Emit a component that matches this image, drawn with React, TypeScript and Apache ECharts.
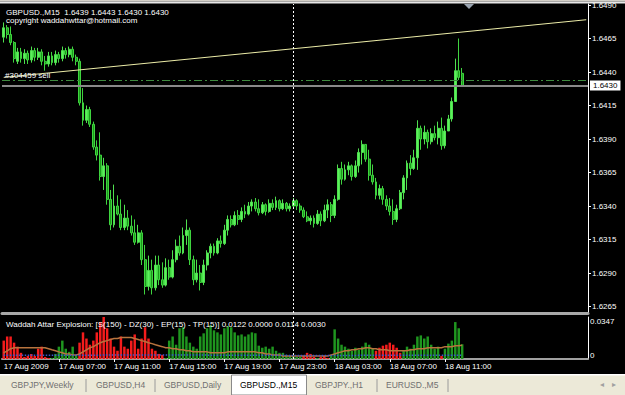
import React, { useEffect, useRef } from 'react';
import * as echarts from 'echarts';

// ---- Data ----
const SYMBOL_HEADER = 'GBPUSD.,M15  1.6439 1.6443 1.6430 1.6430';
const COPYRIGHT = 'copyright waddahwttar@hotmail.com';
const IND_TITLE = 'Waddah Attar Explosion: [S(150) - DZ(30) - EP(15) - TP(15)] 0.0122 0.0000 0.0114 0.0030';

const TIME_LABELS = ['17 Aug 2009', '17 Aug 07:00', '17 Aug 11:00', '17 Aug 15:00', '17 Aug 19:00', '17 Aug 23:00', '18 Aug 03:00', '18 Aug 07:00', '18 Aug 11:00'];
const BARS_PER_LABEL = 16;
const SLOT_COUNT = 170;
const PRICE_TICKS = [1.6265, 1.629, 1.6315, 1.634, 1.6365, 1.639, 1.6415, 1.644, 1.6465, 1.649];
const IND_TOP_TICK = [0.0347];
const IND_BOTTOM_TICK = [0];

const BID_PRICE = 1.643;
const ORDER_PRICE = 1.6434;
const ORDER_LABEL = '#304459 sell';
const TRENDLINE = [[0, 1.6436], [169, 1.6479]];
const VLINE_BAR = 84;

const TABS = ['GBPJPY,Weekly', 'GBPUSD,H4', 'GBPUSD,Daily', 'GBPUSD.,M15', 'GBPJPY.,H1', 'EURUSD.,M5'];

// [open, close, low, high]
const CANDLES = [
  [1.6466, 1.6473, 1.6462, 1.6477], [1.6473, 1.6468, 1.6465, 1.6475], [1.6468, 1.6462, 1.6460, 1.6474], [1.6462, 1.6450, 1.6447, 1.6463],
  [1.6448, 1.6455, 1.6446, 1.6458], [1.6455, 1.6450, 1.6447, 1.6458], [1.6450, 1.6454, 1.6446, 1.6457], [1.6454, 1.6449, 1.6446, 1.6456],
  [1.6449, 1.6456, 1.6447, 1.6459], [1.6456, 1.6451, 1.6448, 1.6458], [1.6451, 1.6455, 1.6449, 1.6458], [1.6455, 1.6448, 1.6445, 1.6457],
  [1.6448, 1.6446, 1.6441, 1.6452], [1.6446, 1.6452, 1.6444, 1.6455], [1.6452, 1.6447, 1.6445, 1.6455], [1.6447, 1.6453, 1.6445, 1.6456],
  [1.6453, 1.6450, 1.6447, 1.6455], [1.6450, 1.6456, 1.6448, 1.6459], [1.6456, 1.6453, 1.6450, 1.6458], [1.6453, 1.6457, 1.6451, 1.6459],
  [1.6457, 1.6451, 1.6448, 1.6459], [1.6451, 1.6448, 1.6445, 1.6453], [1.6448, 1.6417, 1.6415, 1.6450], [1.6417, 1.6404, 1.6400, 1.6428],
  [1.6404, 1.6412, 1.6402, 1.6415], [1.6412, 1.6401, 1.6399, 1.6414], [1.6401, 1.6384, 1.6382, 1.6403], [1.6384, 1.6378, 1.6374, 1.6389],
  [1.6378, 1.6362, 1.6359, 1.6395], [1.6362, 1.6370, 1.6352, 1.6376], [1.6370, 1.6345, 1.6341, 1.6372], [1.6345, 1.6326, 1.6322, 1.6352],
  [1.6326, 1.6340, 1.6324, 1.6356], [1.6340, 1.6334, 1.6333, 1.6348], [1.6334, 1.6324, 1.6322, 1.6345], [1.6324, 1.6331, 1.6322, 1.6341],
  [1.6331, 1.6325, 1.6322, 1.6337], [1.6325, 1.6320, 1.6318, 1.6333], [1.6320, 1.6313, 1.6311, 1.6330], [1.6313, 1.6320, 1.6312, 1.6326],
  [1.6320, 1.6300, 1.6296, 1.6322], [1.6300, 1.6280, 1.6274, 1.6311], [1.6280, 1.6292, 1.6277, 1.6303], [1.6292, 1.6279, 1.6274, 1.6300],
  [1.6279, 1.6296, 1.6277, 1.6303], [1.6296, 1.6285, 1.6281, 1.6303], [1.6285, 1.6281, 1.6279, 1.6298], [1.6281, 1.6294, 1.6280, 1.6301],
  [1.6294, 1.6287, 1.6285, 1.6300], [1.6287, 1.6300, 1.6286, 1.6307], [1.6300, 1.6310, 1.6298, 1.6315], [1.6310, 1.6305, 1.6303, 1.6318],
  [1.6305, 1.6318, 1.6304, 1.6324], [1.6318, 1.6322, 1.6311, 1.6330], [1.6322, 1.6300, 1.6296, 1.6324], [1.6300, 1.6285, 1.6281, 1.6303],
  [1.6285, 1.6290, 1.6283, 1.6300], [1.6290, 1.6283, 1.6277, 1.6296], [1.6283, 1.6296, 1.6281, 1.6300], [1.6296, 1.6305, 1.6292, 1.6307],
  [1.6305, 1.6310, 1.6301, 1.6312], [1.6310, 1.6305, 1.6303, 1.6312], [1.6305, 1.6314, 1.6304, 1.6316], [1.6314, 1.6312, 1.6309, 1.6318],
  [1.6312, 1.6322, 1.6311, 1.6326], [1.6322, 1.6330, 1.6318, 1.6333], [1.6330, 1.6326, 1.6324, 1.6333], [1.6326, 1.6333, 1.6325, 1.6336],
  [1.6333, 1.6330, 1.6326, 1.6337], [1.6330, 1.6336, 1.6328, 1.6339], [1.6336, 1.6334, 1.6331, 1.6341], [1.6334, 1.6340, 1.6333, 1.6343],
  [1.6340, 1.6343, 1.6336, 1.6345], [1.6343, 1.6338, 1.6336, 1.6346], [1.6338, 1.6335, 1.6333, 1.6345], [1.6335, 1.6341, 1.6334, 1.6343],
  [1.6341, 1.6336, 1.6333, 1.6342], [1.6336, 1.6342, 1.6335, 1.6345], [1.6342, 1.6339, 1.6337, 1.6345], [1.6339, 1.6344, 1.6337, 1.6347],
  [1.6344, 1.6338, 1.6336, 1.6345], [1.6338, 1.6342, 1.6337, 1.6345], [1.6342, 1.6338, 1.6336, 1.6343], [1.6338, 1.6340, 1.6336, 1.6342],
  [1.6340, 1.6344, 1.6339, 1.6346], [1.6344, 1.6340, 1.6337, 1.6345], [1.6340, 1.6337, 1.6335, 1.6342], [1.6337, 1.6332, 1.6331, 1.6339],
  [1.6332, 1.6329, 1.6328, 1.6336], [1.6329, 1.6331, 1.6326, 1.6333], [1.6331, 1.6327, 1.6324, 1.6333], [1.6327, 1.6334, 1.6326, 1.6337],
  [1.6334, 1.6329, 1.6325, 1.6336], [1.6329, 1.6337, 1.6328, 1.6341], [1.6337, 1.6341, 1.6331, 1.6345], [1.6341, 1.6333, 1.6328, 1.6343],
  [1.6333, 1.6345, 1.6331, 1.6348], [1.6345, 1.6368, 1.6344, 1.6371], [1.6368, 1.6360, 1.6356, 1.6373], [1.6360, 1.6367, 1.6359, 1.6371],
  [1.6367, 1.6370, 1.6363, 1.6373], [1.6370, 1.6362, 1.6359, 1.6371], [1.6362, 1.6370, 1.6361, 1.6374], [1.6370, 1.6380, 1.6365, 1.6383],
  [1.6380, 1.6386, 1.6371, 1.6389], [1.6386, 1.6375, 1.6373, 1.6386], [1.6375, 1.6363, 1.6359, 1.6382], [1.6363, 1.6358, 1.6356, 1.6371],
  [1.6358, 1.6348, 1.6345, 1.6361], [1.6348, 1.6353, 1.6345, 1.6356], [1.6353, 1.6345, 1.6341, 1.6355], [1.6345, 1.6340, 1.6337, 1.6348],
  [1.6340, 1.6336, 1.6333, 1.6346], [1.6336, 1.6330, 1.6326, 1.6345], [1.6330, 1.6338, 1.6328, 1.6341], [1.6338, 1.6350, 1.6337, 1.6352],
  [1.6350, 1.6361, 1.6345, 1.6363], [1.6361, 1.6372, 1.6352, 1.6374], [1.6372, 1.6368, 1.6363, 1.6378], [1.6368, 1.6376, 1.6367, 1.6382],
  [1.6376, 1.6398, 1.6367, 1.6404], [1.6398, 1.6390, 1.6382, 1.6400], [1.6390, 1.6395, 1.6386, 1.6400], [1.6395, 1.6388, 1.6383, 1.6397],
  [1.6388, 1.6394, 1.6386, 1.6398], [1.6394, 1.6391, 1.6389, 1.6400], [1.6391, 1.6398, 1.6386, 1.6403], [1.6398, 1.6385, 1.6382, 1.6406],
  [1.6385, 1.6396, 1.6383, 1.6400], [1.6396, 1.6405, 1.6396, 1.6408], [1.6405, 1.6418, 1.6403, 1.6421], [1.6418, 1.6441, 1.6418, 1.6450],
  [1.6441, 1.6436, 1.6434, 1.6465], [1.6439, 1.6430, 1.6430, 1.6443],
];

// Waddah Attar trend histogram: positive = up (green), negative = down (red)
const WAE_TREND = [
  -0.0152, -0.0186, -0.0186, -0.0135, -0.0102, -0.0051, -0.0017, -0.0025, -0.0042, -0.0025,
  -0.0085, -0.0102, -0.0017, -0.0008, 0.0008, 0.0042, 0.0102, 0.0152, 0.0085, 0.0059,
  0.0102, 0.0034, -0.0135, -0.0220, -0.0169, -0.0118, -0.0152, -0.0220, -0.0305, -0.0347,
  -0.0254, -0.0169, -0.0102, -0.0068, -0.0186, -0.0102, -0.0085, -0.0152, -0.0203, -0.0085,
  -0.0169, -0.0262, -0.0169, -0.0085, -0.0068, -0.0042, -0.0034, 0.0008, 0.0152, 0.0186,
  0.0118, 0.0254, 0.0262, 0.0186, 0.0135, 0.0102, 0.0085, 0.0186, 0.0212, 0.0254,
  0.0279, 0.0237, 0.0220, 0.0203, 0.0254, 0.0271, 0.0262, 0.0220, 0.0195, 0.0203,
  0.0186, 0.0203, 0.0220, 0.0212, 0.0110, 0.0093, 0.0102, 0.0085, 0.0102, 0.0068,
  0.0051, 0.0051, 0.0034, 0.0025, 0.0025, 0.0017, 0.0017, -0.0025, -0.0051, -0.0042,
  -0.0017, 0.0008, -0.0017, -0.0025, -0.0008, 0.0034, 0.0245, 0.0169, 0.0118, 0.0102,
  0.0085, 0.0068, 0.0093, 0.0076, 0.0102, 0.0135, 0.0118, 0.0085, -0.0068, -0.0093,
  -0.0110, -0.0118, -0.0135, -0.0118, -0.0093, -0.0051, 0.0068, 0.0102, 0.0085, 0.0118,
  0.0186, 0.0195, 0.0169, 0.0186, 0.0118, 0.0085, 0.0102, -0.0025, 0.0085, 0.0127,
  0.0152, 0.0305, 0.0254, 0.0122,
];

const WAE_EXPLOSION = [
  0.0051, 0.0068, 0.0085, 0.0093, 0.0093, 0.0093, 0.0093, 0.0093, 0.0093, 0.0093,
  0.0093, 0.0093, 0.0093, 0.0085, 0.0076, 0.0068, 0.0059, 0.0051, 0.0042, 0.0042,
  0.0034, 0.0034, 0.0042, 0.0059, 0.0076, 0.0093, 0.0102, 0.0118, 0.0135, 0.0144,
  0.0152, 0.0161, 0.0169, 0.0169, 0.0178, 0.0178, 0.0178, 0.0178, 0.0169, 0.0161,
  0.0152, 0.0144, 0.0135, 0.0127, 0.0118, 0.0110, 0.0102, 0.0093, 0.0093, 0.0085,
  0.0085, 0.0076, 0.0076, 0.0068, 0.0068, 0.0059, 0.0059, 0.0059, 0.0059, 0.0059,
  0.0051, 0.0051, 0.0051, 0.0051, 0.0051, 0.0059, 0.0059, 0.0059, 0.0059, 0.0059,
  0.0059, 0.0059, 0.0059, 0.0059, 0.0051, 0.0051, 0.0042, 0.0042, 0.0034, 0.0034,
  0.0034, 0.0025, 0.0025, 0.0025, 0.0025, 0.0025, 0.0025, 0.0025, 0.0025, 0.0025,
  0.0025, 0.0025, 0.0025, 0.0025, 0.0025, 0.0034, 0.0042, 0.0051, 0.0059, 0.0068,
  0.0068, 0.0076, 0.0076, 0.0085, 0.0085, 0.0093, 0.0093, 0.0085, 0.0085, 0.0076,
  0.0076, 0.0076, 0.0068, 0.0068, 0.0068, 0.0068, 0.0068, 0.0068, 0.0076, 0.0076,
  0.0085, 0.0085, 0.0085, 0.0093, 0.0093, 0.0093, 0.0093, 0.0093, 0.0102, 0.0102,
  0.0102, 0.0110, 0.0110, 0.0114,
];

const WAE_DEADZONE = [
  0.0032, 0.0032, 0.0032, 0.0032, 0.0032, 0.0031, 0.0031, 0.0031, 0.0031, 0.0031,
  0.0031, 0.0031, 0.0031, 0.0030, 0.0030, 0.0030, 0.0030, 0.0030, 0.0030, 0.0030,
  0.0030, 0.0030, 0.0031, 0.0031, 0.0031, 0.0031, 0.0032, 0.0032, 0.0032, 0.0033,
  0.0033, 0.0033, 0.0033, 0.0033, 0.0033, 0.0033, 0.0033, 0.0033, 0.0033, 0.0033,
  0.0034, 0.0034, 0.0034, 0.0034, 0.0034, 0.0034, 0.0034, 0.0033, 0.0033, 0.0033,
  0.0033, 0.0033, 0.0033, 0.0033, 0.0033, 0.0033, 0.0033, 0.0033, 0.0033, 0.0032,
  0.0032, 0.0032, 0.0032, 0.0032, 0.0032, 0.0032, 0.0032, 0.0031, 0.0031, 0.0031,
  0.0031, 0.0031, 0.0031, 0.0031, 0.0031, 0.0031, 0.0030, 0.0030, 0.0030, 0.0030,
  0.0030, 0.0030, 0.0030, 0.0029, 0.0029, 0.0029, 0.0029, 0.0029, 0.0029, 0.0029,
  0.0029, 0.0029, 0.0029, 0.0029, 0.0029, 0.0029, 0.0029, 0.0029, 0.0029, 0.0029,
  0.0029, 0.0029, 0.0029, 0.0030, 0.0030, 0.0030, 0.0030, 0.0030, 0.0030, 0.0030,
  0.0030, 0.0030, 0.0030, 0.0030, 0.0030, 0.0030, 0.0030, 0.0030, 0.0030, 0.0030,
  0.0030, 0.0030, 0.0030, 0.0030, 0.0030, 0.0030, 0.0030, 0.0030, 0.0030, 0.0030,
  0.0030, 0.0030, 0.0030, 0.0030,
];

const FONT = 'Liberation Sans';

export default function App() {
  const ref = useRef<HTMLDivElement>(null);

  useEffect(() => {
    if (!ref.current) return;
    const chart = echarts.init(ref.current, undefined, { renderer: 'svg' });
    const slots = Array.from({ length: SLOT_COUNT }, (_, i) => String(i));
    const up = WAE_TREND.map((v) => (v > 0 ? v : 0));
    const down = WAE_TREND.map((v) => (v < 0 ? -v : 0));
    const empty = slots.map(() => null);

    const vline = {
      symbol: ['none', 'none'],
      silent: true,
      label: { show: false },
      data: [{ xAxis: slots[VLINE_BAR], lineStyle: { color: '#ffffff', type: [2, 2], width: 1 } }],
    };

    const tabX = [11, 96, 164, 240, 315, 386];
    const sepX = [86, 155, 377, 448];

    const option: any = {
      animation: false,
      backgroundColor: '#000000',
      textStyle: { fontFamily: FONT, fontSize: 8 },
      grid: [
        { left: 2, width: 586, top: 4, height: 309 },
        { left: 2, width: 586, top: 317, height: 42 },
      ],
      xAxis: [
        {
          type: 'category', gridIndex: 0, data: slots, boundaryGap: true,
          axisLine: { show: true, lineStyle: { color: '#a8a8a8', width: 3 } },
          axisTick: { show: false }, axisLabel: { show: false }, splitLine: { show: false },
        },
        {
          type: 'category', gridIndex: 1, data: slots, boundaryGap: true,
          axisLine: { show: true, lineStyle: { color: '#a0a0a0', width: 2 } },
          axisTick: {
            show: true, alignWithLabel: true, length: 3,
            interval: (i: number) => i > 0 && i % BARS_PER_LABEL === 0 && i / BARS_PER_LABEL < TIME_LABELS.length,
            lineStyle: { color: '#ffffff' },
          },
          axisLabel: {
            interval: (i: number) => i % BARS_PER_LABEL === 0 && i / BARS_PER_LABEL < TIME_LABELS.length,
            formatter: (_v: string, i: number) => TIME_LABELS[i / BARS_PER_LABEL] ?? '',
            color: '#ffffff', align: 'left', fontSize: 8, fontFamily: FONT, margin: 3,
          },
          splitLine: { show: false },
        },
      ],
      yAxis: [
        {
          type: 'value', gridIndex: 0, position: 'right', min: 1.62602, max: 1.649075,
          splitLine: { show: false },
          axisLine: { show: true, lineStyle: { color: '#ffffff' } },
          axisTick: { show: true, customValues: PRICE_TICKS, length: 3, lineStyle: { color: '#ffffff' } },
          axisLabel: { customValues: PRICE_TICKS, formatter: (v: number) => v.toFixed(4), color: '#ffffff', margin: 4, fontSize: 8, fontFamily: FONT },
        },
        {
          type: 'value', gridIndex: 1, position: 'right', min: 0, max: 0.0347,
          splitLine: { show: false },
          axisLine: { show: true, lineStyle: { color: '#ffffff' } },
          axisTick: { show: false },
          axisLabel: { customValues: IND_TOP_TICK, formatter: (v: number) => v.toFixed(4), color: '#ffffff', margin: 2, fontSize: 8, fontFamily: FONT, verticalAlign: 'top' },
        },
        {
          type: 'value', gridIndex: 1, position: 'right', offset: 0, min: 0, max: 0.0347,
          splitLine: { show: false }, axisLine: { show: false }, axisTick: { show: false },
          axisLabel: { customValues: IND_BOTTOM_TICK, formatter: (v: number) => String(v), color: '#ffffff', margin: 2, fontSize: 8, fontFamily: FONT, verticalAlign: 'bottom' },
        },
      ],
      series: [
        {
          type: 'candlestick', xAxisIndex: 0, yAxisIndex: 0, data: CANDLES, barWidth: 2.4,
          itemStyle: { color: '#5cf25c', color0: '#1b9a1b', borderColor: '#4fe04f', borderColor0: '#3fd43f', borderWidth: 1 },
        },
        {
          // carrier for the chart objects (trend line, order line, bid line, period separator)
          type: 'line', xAxisIndex: 0, yAxisIndex: 0, data: empty, symbol: 'none', silent: true,
          lineStyle: { opacity: 0 },
          markLine: {
            symbol: ['none', 'none'], silent: true, precision: 5,
            data: [
              [
                { coord: [slots[TRENDLINE[0][0]], TRENDLINE[0][1]], lineStyle: { color: '#ececa8', width: 1, type: 'solid' }, label: { show: false } },
                { coord: [slots[TRENDLINE[1][0]], TRENDLINE[1][1]] },
              ],
              {
                yAxis: ORDER_PRICE,
                lineStyle: { color: '#3f8a3f', width: 1, type: [8, 3, 2, 3] },
                label: { show: true, position: 'insideStartTop', formatter: ORDER_LABEL, color: '#ffffff', fontSize: 8, fontFamily: FONT, distance: [3, 1] },
              },
              {
                yAxis: BID_PRICE,
                lineStyle: { color: '#8a8a8a', width: 2, type: 'solid' },
                label: { show: true, position: 'end', formatter: BID_PRICE.toFixed(4), color: '#000000', backgroundColor: '#ffffff', padding: [1, 3, 1, 3], fontSize: 8, fontFamily: FONT, distance: 2 },
              },
              { xAxis: slots[VLINE_BAR], lineStyle: { color: '#ffffff', type: [2, 2], width: 1 }, label: { show: false } },
            ],
          },
        },
        {
          type: 'bar', xAxisIndex: 1, yAxisIndex: 1, stack: 'wae', data: up, barWidth: '72%',
          itemStyle: { color: '#1f961f' }, markLine: vline,
        },
        {
          type: 'bar', xAxisIndex: 1, yAxisIndex: 1, stack: 'wae', data: down, barWidth: '72%',
          itemStyle: { color: '#f51c1c' },
        },
        {
          type: 'line', xAxisIndex: 1, yAxisIndex: 1, data: WAE_EXPLOSION, symbol: 'none',
          lineStyle: { color: '#b8743e', width: 1.5 },
        },
        {
          type: 'line', xAxisIndex: 1, yAxisIndex: 1, data: WAE_DEADZONE, symbol: 'none',
          lineStyle: { color: '#3a55d0', width: 1.5, type: 'dotted' },
        },
      ],
      graphic: [
        { type: 'rect', shape: { x: 0, y: 0, width: 625, height: 1.5 }, style: { fill: '#d4d0c8' }, silent: true },
        { type: 'rect', shape: { x: 0, y: 1.5, width: 625, height: 2 }, style: { fill: '#e8e8e8' }, silent: true },
        { type: 'text', left: 6, top: 8, z: 100, style: { text: SYMBOL_HEADER, fill: '#ffffff', fontSize: 8, fontFamily: FONT } },
        { type: 'text', left: 6, top: 16.5, z: 100, style: { text: COPYRIGHT, fill: '#ffffff', fontSize: 8, fontFamily: FONT } },
        { type: 'text', left: 6, top: 320.5, z: 100, style: { text: IND_TITLE, fill: '#ffffff', fontSize: 8, fontFamily: FONT } },
        { type: 'polygon', shape: { points: [[464, 4], [474, 4], [469, 9]] }, style: { fill: '#9aa4b0' }, silent: true },
        // tab bar
        { type: 'rect', shape: { x: 0, y: 374, width: 625, height: 21 }, style: { fill: '#ece9d8' }, silent: true },
        { type: 'rect', shape: { x: 0, y: 374, width: 625, height: 1.5 }, style: { fill: '#ffffff' }, silent: true },
        { type: 'rect', shape: { x: 231.5, y: 375, width: 75, height: 20 }, style: { fill: '#ffffff', stroke: '#8a8a8a', lineWidth: 1 }, silent: true },
        ...sepX.map((x) => ({ type: 'line', shape: { x1: x, y1: 379, x2: x, y2: 392 }, style: { stroke: '#9a9a9a', lineWidth: 1 }, silent: true })),
        ...TABS.map((t, i) => ({
          type: 'text', left: tabX[i], top: 380,
          style: { text: t, fill: i === 3 ? '#000000' : '#707070', fontSize: 8.5, fontFamily: FONT },
        })),
        { type: 'text', left: 600, top: 380, style: { text: '◂', fill: '#a0a0a0', fontSize: 8, fontFamily: 'DejaVu Sans' } },
        { type: 'text', left: 612, top: 380, style: { text: '▸', fill: '#a0a0a0', fontSize: 8, fontFamily: 'DejaVu Sans' } },
      ],
    };

    chart.setOption(option);
    return () => chart.dispose();
  }, []);

  return <div ref={ref} style={{ position: 'fixed', left: 0, top: 0, width: 625, height: 395 }} />;
}
